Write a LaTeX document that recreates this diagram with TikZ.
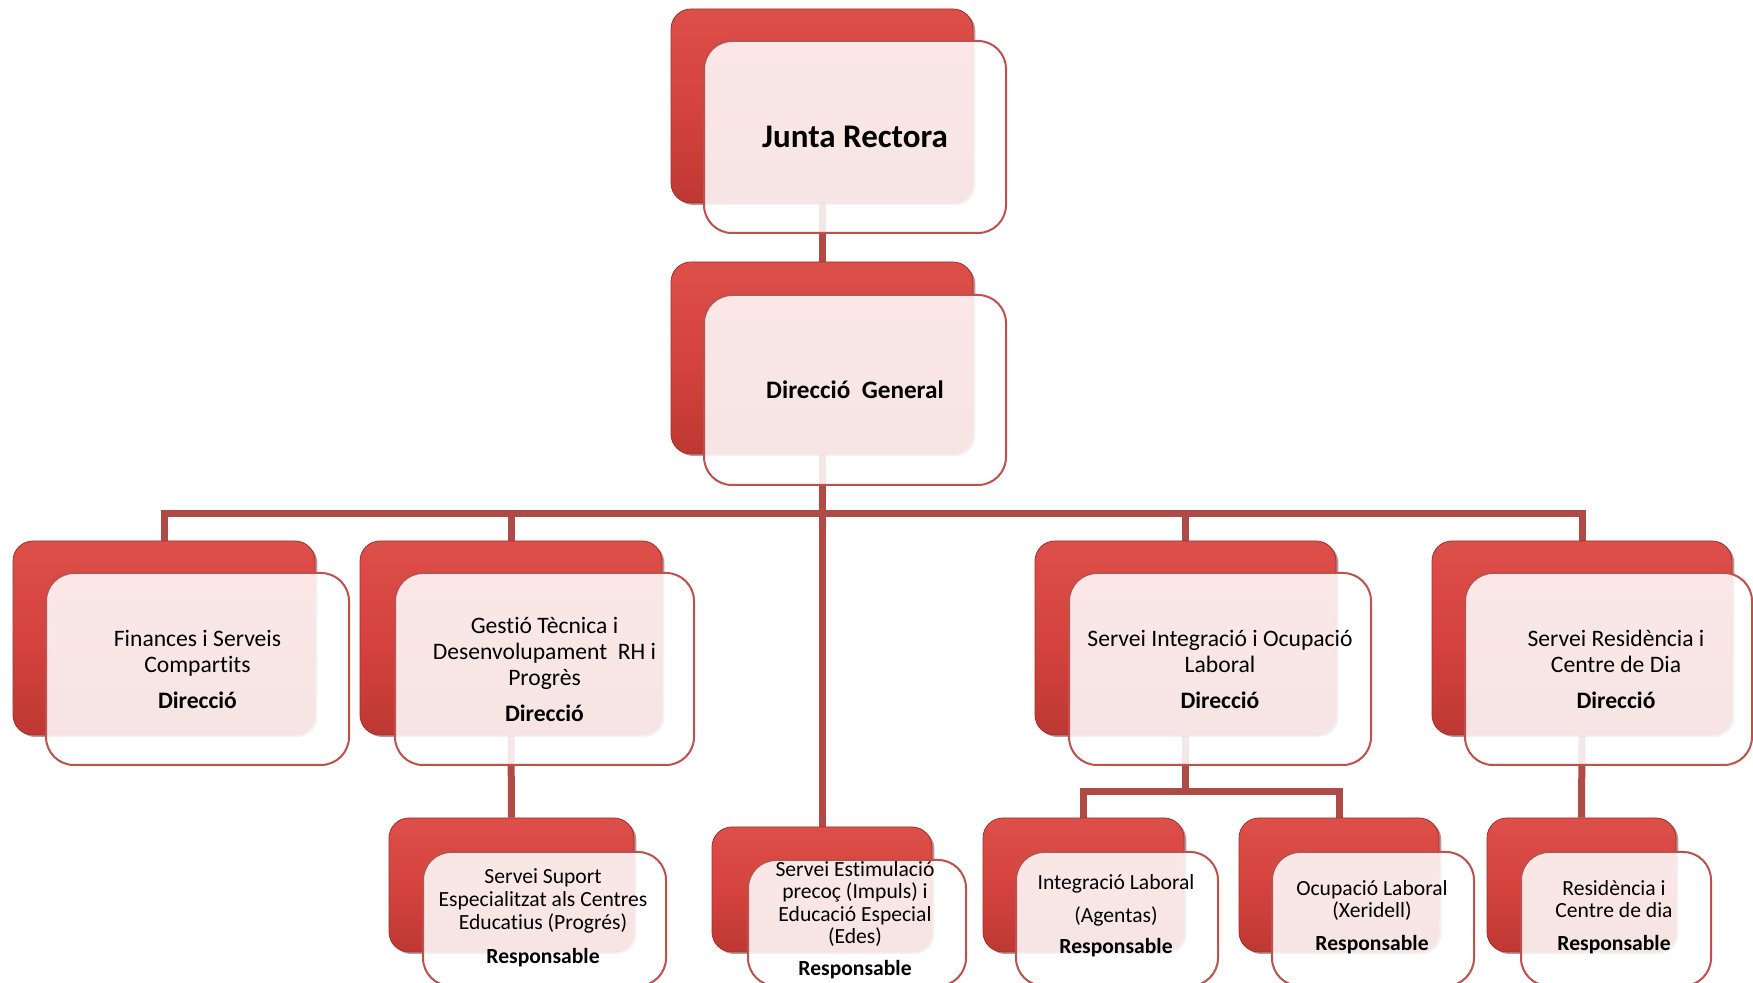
\documentclass[tikz,border=0pt]{standalone}
\usepackage{fontspec}
\setmainfont{Carlito}[Ligatures=NoCommon]
\usetikzlibrary{fit,shadows}
\definecolor{redtop}{HTML}{DD4F4A}
\definecolor{redmid}{HTML}{D5433E}
\definecolor{redbot}{HTML}{BE3833}
\definecolor{edgecol}{HTML}{C0504D}
\definecolor{conncol}{HTML}{B04A47}
\pgfdeclarelayer{background}
\pgfdeclarelayer{canvas}
\pgfsetlayers{canvas,background,main}
\begin{document}
\begin{tikzpicture}[x=0.5pt,y=-0.5pt,
  redbox/.style={rounded corners=10pt, inner sep=0pt, top color=redtop, bottom color=redbot, middle color=redmid,
    draw=redbot!85!black, line width=0.4pt,
    drop shadow={shadow xshift=1.2pt, shadow yshift=-1pt, opacity=0.45, fill=redbot!55!black}},
  whitebox/.style={rounded corners=14pt, inner sep=0pt, draw=edgecol, line width=1pt, fill=white, fill opacity=0.87},
  conn/.style={draw=conncol, line width=3.5pt},
  tjr/.style={inner sep=0pt, font=\fontsize{16.5}{20}\selectfont\bfseries},
  tdg/.style={inner sep=0pt, font=\fontsize{12.6}{15}\selectfont\bfseries},
  ttwo/.style={inner sep=0pt, align=center, font=\fontsize{11.8}{13}\selectfont},
  tthree/.style={inner sep=0pt, align=center, font=\fontsize{10.8}{11.3}\selectfont}]
\path[use as bounding box, clip] (0,0) rectangle (1753,983);
\begin{pgfonlayer}{canvas}
\fill[white] (0,0) rectangle (1753,983);
\end{pgfonlayer}
% level 0 and 1
\node[redbox, fit={(671,9) (973,203)}] (jr) {};
\node[whitebox, fit={(704,41) (1006,233)}] (jrw) {};
\node[tjr] (tjr) at (jrw.center) {Junta Rectora};
\node[redbox, fit={(671,262) (973,454)}] (dg) {};
\node[whitebox, fit={(704,295) (1006,485)}] (dgw) {};
\node[tdg] (tdg) at (dgw.center) {Direcció\ \ General};
% level 2
\node[redbox, fit={(13,541) (315,735)}] (fin) {};
\node[whitebox, fit={(46,573) (349,765)}] (finw) {};
\node[ttwo] (tfin) at (finw.center) {Finances i Serveis\\Compartits\\[5pt]\textbf{Direcció}};
\node[redbox, fit={(360,541) (662,735)}] (ges) {};
\node[whitebox, fit={(395,573) (694,765)}] (gesw) {};
\node[ttwo] (tges) at (gesw.center) {Gestió Tècnica i\\Desenvolupament\ \ RH i\\Progrès\\[5pt]\textbf{Direcció}};
\node[redbox, fit={(1035,541) (1336,735)}] (sio) {};
\node[whitebox, fit={(1069,573) (1371,765)}] (siow) {};
\node[ttwo] (tsio) at (siow.center) {Servei Integració i Ocupació\\Laboral\\[5pt]\textbf{Direcció}};
\node[redbox, fit={(1432,541) (1732,735)}] (sres) {};
\node[whitebox, fit={(1465,573) (1752,765)}] (sresw) {};
\node[ttwo] (tsres) at (1616,669) {Servei Residència i\\Centre de Dia\\[5pt]\textbf{Direcció}};
% level 3
\node[redbox, fit={(389,818) (634,952)}] (sup) {};
\node[whitebox, fit={(423,852) (666,986)}] (supw) {};
\node[tthree] (tsup) at (543,918) {Servei Suport\\Especialitzat als Centres\\Educatius (Progrés)\\[6pt]\textbf{Responsable}};
\node[redbox, fit={(712,827) (932,952)}] (est) {};
\node[whitebox, fit={(748,860) (966,986)}] (estw) {};
\node[tthree] (test) at (855,920) {Servei Estimulació\\precoç (Impuls) i\\Educació Especial\\(Edes)\\[4.5pt]\textbf{Responsable}};
\node[redbox, fit={(983,818) (1184,952)}] (il) {};
\node[whitebox, fit={(1016,852) (1218,986)}] (ilw) {};
\node[tthree] (til) at (1116,916) {Integració Laboral\\[5pt](Agentas)\\[4.5pt]\textbf{Responsable}};
\node[redbox, fit={(1239,818) (1439,952)}] (ol) {};
\node[whitebox, fit={(1272,852) (1474,986)}] (olw) {};
\node[tthree] (tol) at (1372,917) {Ocupació Laboral\\(Xeridell)\\[5pt]\textbf{Responsable}};
\node[redbox, fit={(1487,818) (1676,952)}] (res) {};
\node[whitebox, fit={(1521,852) (1711,986)}] (resw) {};
\node[tthree] (tres) at (1614,917) {Residència i\\Centre de dia\\[5pt]\textbf{Responsable}};
% connectors
\coordinate (bus) at (822,514);
\coordinate (jtwo) at (1185,792);
\begin{pgfonlayer}{background}
\draw[conn] (jr.south) -- (dg.north);
\draw[conn] (dg.south) -- (est.north);
\draw[conn] (fin.north) |- (bus) -| (sres.north);
\draw[conn] (ges.north) -- (ges.north |- bus);
\draw[conn] (sio.north) -- (sio.north |- bus);
\draw[conn] (ges.south) -- (sup.north);
\draw[conn] (sio.south) -- (sio.south |- jtwo);
\draw[conn] (il.north) |- (jtwo) -| (ol.north);
\draw[conn] (sres.south) -- (res.north);
\end{pgfonlayer}
\end{tikzpicture}
\end{document}
